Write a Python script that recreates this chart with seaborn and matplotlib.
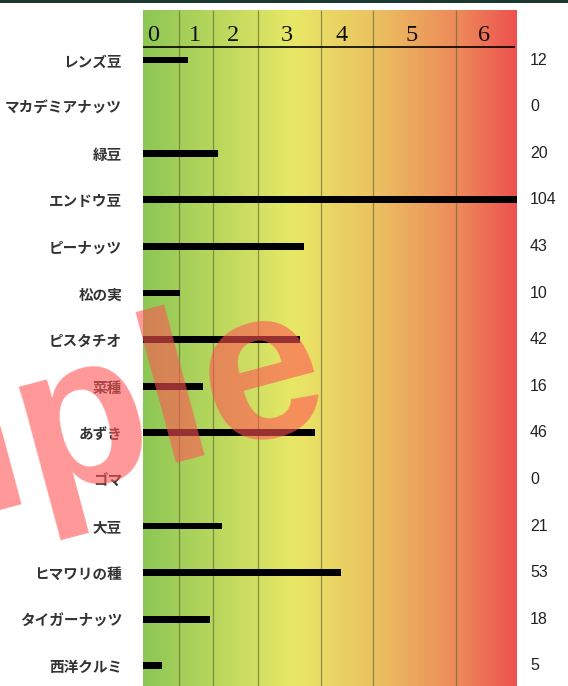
import matplotlib
matplotlib.use("Agg")
import matplotlib.pyplot as plt
from matplotlib.colors import LinearSegmentedColormap
from matplotlib.patches import Rectangle
import numpy as np
import pandas as pd
import seaborn as sns

# Data
foods = ["レンズ豆", "マカデミアナッツ", "緑豆", "エンドウ豆", "ピーナッツ", "松の実",
         "ピスタチオ", "菜種", "あずき", "ゴマ", "大豆", "ヒマワリの種",
         "タイガーナッツ", "西洋クルミ"]
amounts = [12, 0, 20, 104, 43, 10, 42, 16, 46, 0, 21, 53, 18, 5]

# Rating bands along the value axis (0-6)
band_labels = ["0", "1", "2", "3", "4", "5", "6"]
band_edges = [0, 9.6, 18.7, 30.7, 47.7, 61.6, 83.7, 100]
band_label_pos = [2.7, 13.9, 24.0, 38.4, 53.0, 71.7, 91.2]

sns.set_style("white")
plt.rcParams["font.family"] = ["Noto Sans CJK JP", "DejaVu Sans"]

W, H, DPI = 568, 686, 100
fig = plt.figure(figsize=(W / DPI, H / DPI), dpi=DPI)
fig.patch.set_facecolor("white")

ax_left, ax_right, ax_top = 143, 517, 10
ax = fig.add_axes([ax_left / W, 0, (ax_right - ax_left) / W, 1 - ax_top / H])

row_px = 46.6
first_row_px = 60
y_top = -(first_row_px - ax_top) / row_px
y_bottom = (len(foods) - 1) + (H - (first_row_px + row_px * (len(foods) - 1))) / row_px
xmax = 100

# Background gradient green -> yellow -> red
cmap = LinearSegmentedColormap.from_list(
    "grade",
    [(0.0, (0.55, 0.78, 0.33)),
     (0.40, (0.91, 0.91, 0.40)),
     (0.62, (0.92, 0.76, 0.38)),
     (0.85, (0.93, 0.53, 0.35)),
     (1.0, (0.93, 0.32, 0.31))])
grad = np.linspace(0, 1, 512).reshape(1, -1)
ax.imshow(grad, cmap=cmap, aspect="auto", extent=[0, xmax, y_bottom, y_top],
          zorder=0, interpolation="bilinear")

# Band dividers
ax.vlines(band_edges[1:-1], y_top, y_bottom, colors=(0.42, 0.42, 0.22),
          linewidth=0.9, alpha=0.7, zorder=1)

df = pd.DataFrame({"food": foods, "amount": amounts})
sns.barplot(data=df, x="amount", y="food", orient="h", color="black",
            width=0.15, ax=ax, zorder=3, saturation=1)
for p in ax.patches:
    p.set_edgecolor("none")

ax.set_xlim(0, xmax)
ax.set_ylim(y_bottom, y_top)

# Header rule and band numbers
header_y = y_top + (47 - ax_top) / row_px
ax.plot([0, 99.5], [header_y, header_y], color="black", linewidth=1.2, zorder=4,
        solid_capstyle="butt")
label_base = y_top + (41 - ax_top) / row_px
for pos, lab in zip(band_label_pos, band_labels):
    ax.text(pos, label_base, lab, ha="center", va="baseline", fontsize=17.5,
            family="Liberation Serif", color="#111111", zorder=4)

# Value labels on the right
for i, v in enumerate(amounts):
    ax.annotate(str(v), xy=(xmax, i), xytext=(13, 0), textcoords="offset pixels",
                ha="left", va="center", fontsize=11.5, family="Liberation Sans",
                color="#222222", annotation_clip=False)

ax.set_xlabel("")
ax.set_ylabel("")
ax.set_xticks([])
ax.tick_params(axis="y", length=0, pad=15)
for t in ax.get_yticklabels():
    t.set_fontsize(10.5)
    t.set_fontweight("bold")
    t.set_color("#333333")
for s in ax.spines.values():
    s.set_visible(False)

# Dark strip along the top edge
fig.patches.append(Rectangle((0, 1 - 3 / H), 1, 3 / H, transform=fig.transFigure,
                             facecolor=(0.10, 0.22, 0.18), edgecolor="none", zorder=10))

# Watermark
fig.text(336 / W, 1 - 418 / H, "Sample", fontsize=155, family="Liberation Sans",
         fontweight="bold", color=(1.0, 0.33, 0.33), alpha=0.6, rotation=15,
         rotation_mode="anchor", ha="right", va="baseline", zorder=20)

fig.savefig("out.png", dpi=DPI, facecolor="white")
